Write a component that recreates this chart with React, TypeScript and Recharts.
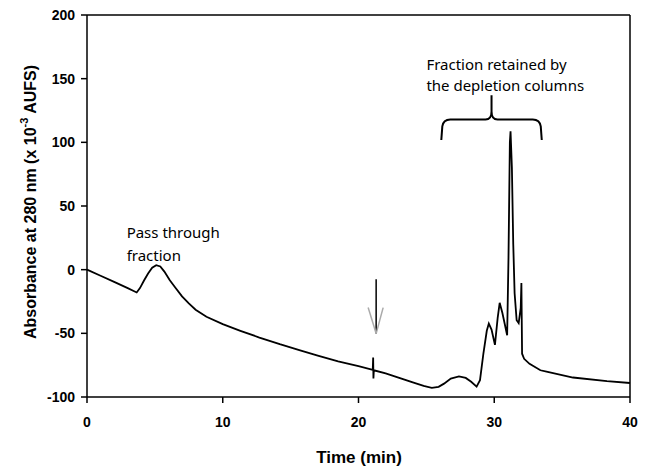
import { LineChart, Line, XAxis, YAxis, ReferenceArea, ReferenceLine, ReferenceDot, Label } from "recharts";

const time = [
  0, 1, 2, 3, 3.66, 3.9, 4.2, 4.5, 4.8, 5.1, 5.4, 5.7, 6.1, 6.5, 7.0, 7.5, 8.0, 8.8, 10, 11.3, 12.7, 14.2,
  15.7, 17, 18.5, 20, 21.05, 21.08, 21.1, 21.13, 22, 23, 24, 24.8, 25.4, 25.9, 26.3, 26.8, 27.4, 27.9,
  28.3, 28.7, 28.95, 29.2, 29.45, 29.6, 29.8, 30.05, 30.25, 30.4, 30.6, 30.95, 31.05, 31.15, 31.2, 31.3,
  31.4, 31.5, 31.65, 31.8, 31.95, 32.0, 32.05, 32.2, 32.6, 33.4, 33.85, 35.8, 38.3, 40,
];
const absorbance = [
  0, -4.8, -9.6, -14.5, -17.9, -14.5, -8.5, -3, 1.5, 3.5, 2.5, -1.5, -8.3, -14, -21, -26.5, -31.5, -37, -42.8,
  -48, -53.3, -58.5, -63.3, -67.5, -72, -75.8, -78.6, -69, -85.5, -79, -81.5, -85, -88.5, -91.3, -92.8,
  -92, -89.5, -85.5, -83.8, -85, -88, -91.8, -86.8, -66, -48, -42.3, -47, -59, -38, -26, -34, -51.5, 10,
  100, 108.7, 80, 20, -18.5, -39.7, -42, -30, -10.4, -66, -70, -74, -79, -80, -84.7, -87.6, -89,
];
const xTicks = [0, 10, 20, 30, 40];
const yTicks = [-100, -50, 0, 50, 100, 150, 200];

const data = time.map((t, i) => ({ t, a: absorbance[i] }));

const axisFont = { fontSize: 14, fontWeight: "bold", fill: "#000", fontFamily: "'Liberation Sans', Arial, sans-serif" };
const noteFont = "'Noto Sans', sans-serif";

function Bracket(p: any) {
  const { x, y, width: w, height: h } = p;
  const bar = y + h * 0.54;
  const cx = x + w / 2;
  const d =
    `M${x},${y + h} L${x + 1},${bar + 7} Q${x + 2},${bar} ${x + 9},${bar} L${cx - 6},${bar} ` +
    `Q${cx},${bar} ${cx},${bar - 8} L${cx},${y} M${cx},${bar - 8} Q${cx},${bar} ${cx + 6},${bar} ` +
    `L${x + w - 9},${bar} Q${x + w - 2},${bar} ${x + w - 1},${bar + 7} L${x + w},${y + h}`;
  return <path d={d} fill="none" stroke="#000" strokeWidth={2} />;
}

export default function App() {
  return (
    <div style={{ position: "absolute", left: 0, top: 0, background: "#fff" }}>
      <LineChart width={649} height={469} data={data} margin={{ top: 15, right: 19, left: 0, bottom: 42 }}>
        <XAxis
          dataKey="t"
          type="number"
          domain={[0, 40]}
          ticks={xTicks}
          height={30}
          tickSize={6}
          tickMargin={14}
          tick={axisFont}
          axisLine={{ stroke: "#000", strokeWidth: 1.5 }}
          tickLine={{ stroke: "#000", strokeWidth: 1.5 }}
        >
          <Label
            content={() => (
              <text x={359} y={463} textAnchor="middle" fontSize={17} fontWeight="bold" fontFamily="'Liberation Sans', Arial, sans-serif" fill="#000">
                Time (min)
              </text>
            )}
          />
        </XAxis>
        <YAxis
          type="number"
          domain={[-100, 200]}
          ticks={yTicks}
          width={87}
          tickSize={6}
          tickMargin={6}
          tick={axisFont}
          axisLine={{ stroke: "#000", strokeWidth: 1.5 }}
          tickLine={{ stroke: "#000", strokeWidth: 1.5 }}
        >
          <Label
            content={() => (
              <text
                x={30}
                y={202}
                transform="rotate(-90, 30, 202)"
                textAnchor="middle"
                dominantBaseline="central"
                fontSize={16}
                fontWeight="bold"
                fontFamily="'Liberation Sans', Arial, sans-serif"
                fill="#000"
              >
                Absorbance at 280 nm (x 10<tspan dy={-6} fontSize={11}>-3</tspan>
                <tspan dy={6}> AUFS)</tspan>
              </text>
            )}
          />
        </YAxis>
        <ReferenceLine y={200} stroke="#000" strokeWidth={1.5} />
        <ReferenceLine x={40} stroke="#000" strokeWidth={1.5} />
        <Line dataKey="a" type="linear" stroke="#000" strokeWidth={1.8} dot={false} isAnimationActive={false} />
        <ReferenceLine segment={[{ x: 21.3, y: -7.5 }, { x: 21.3, y: -50.2 }]} stroke="#000" strokeWidth={1.5} />
        <ReferenceDot
          x={21.3}
          y={-50.2}
          r={0}
          shape={(p: any) => (
            <g stroke="#aaa" strokeWidth={1.5}>
              <line x1={p.cx} y1={p.cy} x2={p.cx - 8} y2={p.cy - 26} />
              <line x1={p.cx} y1={p.cy} x2={p.cx + 7} y2={p.cy - 26} />
            </g>
          )}
        />
        <ReferenceArea x1={26.1} x2={33.5} y1={101.8} y2={137} shape={Bracket} />
        <ReferenceDot
          x={2.92}
          y={24.8}
          r={0}
          shape={(p: any) => (
            <text x={p.cx} y={p.cy} fontSize={15} fontFamily={noteFont} fill="#000">
              <tspan x={p.cx}>Pass through</tspan>
              <tspan x={p.cx} dy={23}>fraction</tspan>
            </text>
          )}
        />
        <ReferenceDot
          x={25.0}
          y={156.8}
          r={0}
          shape={(p: any) => (
            <text x={p.cx} y={p.cy} fontSize={15} fontFamily={noteFont} fill="#000">
              <tspan x={p.cx}>Fraction retained by</tspan>
              <tspan x={p.cx} dy={21}>the depletion columns</tspan>
            </text>
          )}
        />
      </LineChart>
    </div>
  );
}
